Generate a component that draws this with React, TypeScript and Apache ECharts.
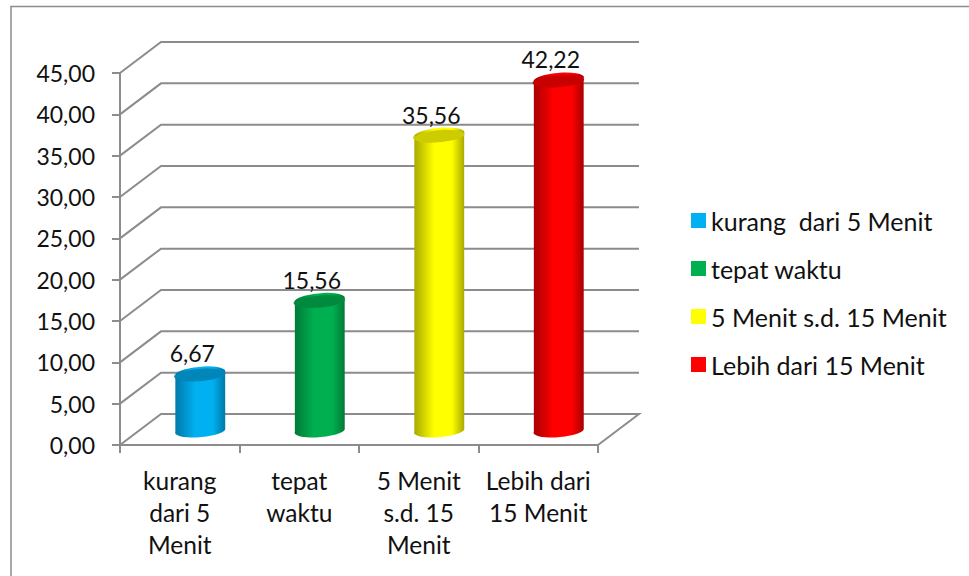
import React, { useEffect, useRef } from "react";
import * as echarts from "echarts";

const categories = ["kurang\ndari 5\nMenit", "tepat\nwaktu", "5 Menit\ns.d. 15\nMenit", "Lebih dari\n15 Menit"];
const seriesNames = ["kurang  dari 5 Menit", "tepat waktu", "5 Menit s.d. 15 Menit", "Lebih dari 15 Menit"];
const values = [6.67, 15.56, 35.56, 42.22];
const yTicks = [0, 5, 10, 15, 20, 25, 30, 35, 40, 45];
const legendColors = ["#00b0f0", "#00b050", "#ffff00", "#ff0000"];
const edgeColors = ["#0078a8", "#007a38", "#a8a800", "#a80000"];
const capColors = ["#0086b8", "#008a3e", "#cccc00", "#c80000"];

const FONT = "Lato, Carlito, sans-serif";
const GREY = "#8c8c8c";
const DEPTH_X = 41;
const DEPTH_Y = 31;
const RX = 25;
const RY = 6.5;
const ROT_DEG = -5;
const TILT_X = RX * Math.cos((ROT_DEG * Math.PI) / 180);
const TILT_Y = -RX * Math.sin((ROT_DEG * Math.PI) / 180);

const fmt = (v: number) => v.toFixed(2).replace(".", ",");

function renderGrid(params: any, api: any) {
  const v = api.value(0);
  const cs = params.coordSys;
  const y = api.coord([0, v])[1];
  const pts = [
    [cs.x, y],
    [cs.x + DEPTH_X, y - DEPTH_Y],
    [cs.x + cs.width + DEPTH_X, y - DEPTH_Y],
  ];
  if (v === 0) pts.push([cs.x + cs.width, y]);
  return {
    type: "polyline",
    shape: { points: pts },
    style: { stroke: GREY, lineWidth: 2, fill: "none" },
    silent: true,
  };
}

function makeBarRenderer(i: number) {
  return function (params: any, api: any) {
    const v = api.value(1);
    const top = api.coord([api.value(0), v]);
    const base = api.coord([api.value(0), 0]);
    const cx = top[0] + DEPTH_X / 2;
    const ty = top[1] - DEPTH_Y / 2;
    const by = base[1] - DEPTH_Y / 2;
    const body =
      `M ${cx - TILT_X} ${ty + TILT_Y} ` +
      `L ${cx - TILT_X} ${by + TILT_Y} ` +
      `A ${RX} ${RY} ${ROT_DEG} 0 0 ${cx + TILT_X} ${by - TILT_Y} ` +
      `L ${cx + TILT_X} ${ty - TILT_Y} ` +
      `A ${RX} ${RY} ${ROT_DEG} 0 0 ${cx - TILT_X} ${ty + TILT_Y} Z`;
    const cap =
      `M ${cx - TILT_X} ${ty + TILT_Y} ` +
      `A ${RX} ${RY} ${ROT_DEG} 0 1 ${cx + TILT_X} ${ty - TILT_Y} ` +
      `A ${RX} ${RY} ${ROT_DEG} 0 1 ${cx - TILT_X} ${ty + TILT_Y} Z`;
    const grad = new echarts.graphic.LinearGradient(0, 0, 1, 0, [
      { offset: 0, color: edgeColors[i] },
      { offset: 0.4, color: legendColors[i] },
      { offset: 0.75, color: legendColors[i] },
      { offset: 1, color: edgeColors[i] },
    ]);
    return {
      type: "group",
      children: [
        { type: "path", shape: { pathData: body }, style: { fill: grad } },
        { type: "path", shape: { pathData: cap }, style: { fill: capColors[i] } },
        {
          type: "text",
          style: {
            text: fmt(v),
            x: cx - 8,
            y: ty - 21,
            align: "center",
            verticalAlign: "middle",
            fill: "#111",
            font: `23px ${FONT}`,
          },
        },
      ],
    };
  };
}

export default function App() {
  const ref = useRef<HTMLDivElement>(null);
  useEffect(() => {
    const chart = echarts.init(ref.current!, null, { renderer: "svg" });
    chart.setOption({
      animation: false,
      backgroundColor: "#fff",
      graphic: [
        {
          type: "polyline",
          shape: { points: [[11, 576], [11, 6.5], [969, 6.5]] },
          style: { stroke: "#8c8c8c", lineWidth: 1.5, fill: "none" },
        },
      ],
      grid: { left: 120, top: 73, width: 478, height: 372 },
      legend: {
        data: seriesNames,
        orient: "vertical",
        left: 691,
        top: 208,
        padding: 0,
        itemWidth: 15,
        itemHeight: 15,
        itemGap: 23,
        icon: "rect",
        textStyle: { fontFamily: FONT, fontSize: 25, lineHeight: 24, color: "#111" },
      },
      xAxis: {
        type: "category",
        data: categories,
        axisLine: { lineStyle: { color: GREY, width: 2 } },
        axisTick: { show: true, length: 8, lineStyle: { color: GREY, width: 2 } },
        axisLabel: { interval: 0, margin: 19, lineHeight: 32, fontFamily: FONT, fontSize: 24.5, color: "#111" },
      },
      yAxis: {
        type: "value",
        min: 0,
        max: 45,
        interval: 5,
        splitLine: { show: false },
        axisLine: { show: true, lineStyle: { color: GREY, width: 2 } },
        axisTick: { show: true, length: 8, lineStyle: { color: GREY, width: 2 } },
        axisLabel: { margin: 25, fontFamily: FONT, fontSize: 23, color: "#111", formatter: (v: number) => fmt(v) },
      },
      series: [
        {
          type: "custom",
          name: "grid",
          silent: true,
          clip: false,
          z: 1,
          data: yTicks.map((t) => [t]),
          encode: { y: 0 },
          renderItem: renderGrid,
        },
        ...seriesNames.map((name, i) => ({
          type: "custom",
          name,
          clip: false,
          z: 2 + i,
          itemStyle: { color: legendColors[i] },
          data: [[i, values[i]]],
          encode: { x: 0, y: 1 },
          renderItem: makeBarRenderer(i),
        })),
      ],
    });
    return () => chart.dispose();
  }, []);
  return <div ref={ref} style={{ position: "absolute", left: 0, top: 0, width: 969, height: 576 }} />;
}
